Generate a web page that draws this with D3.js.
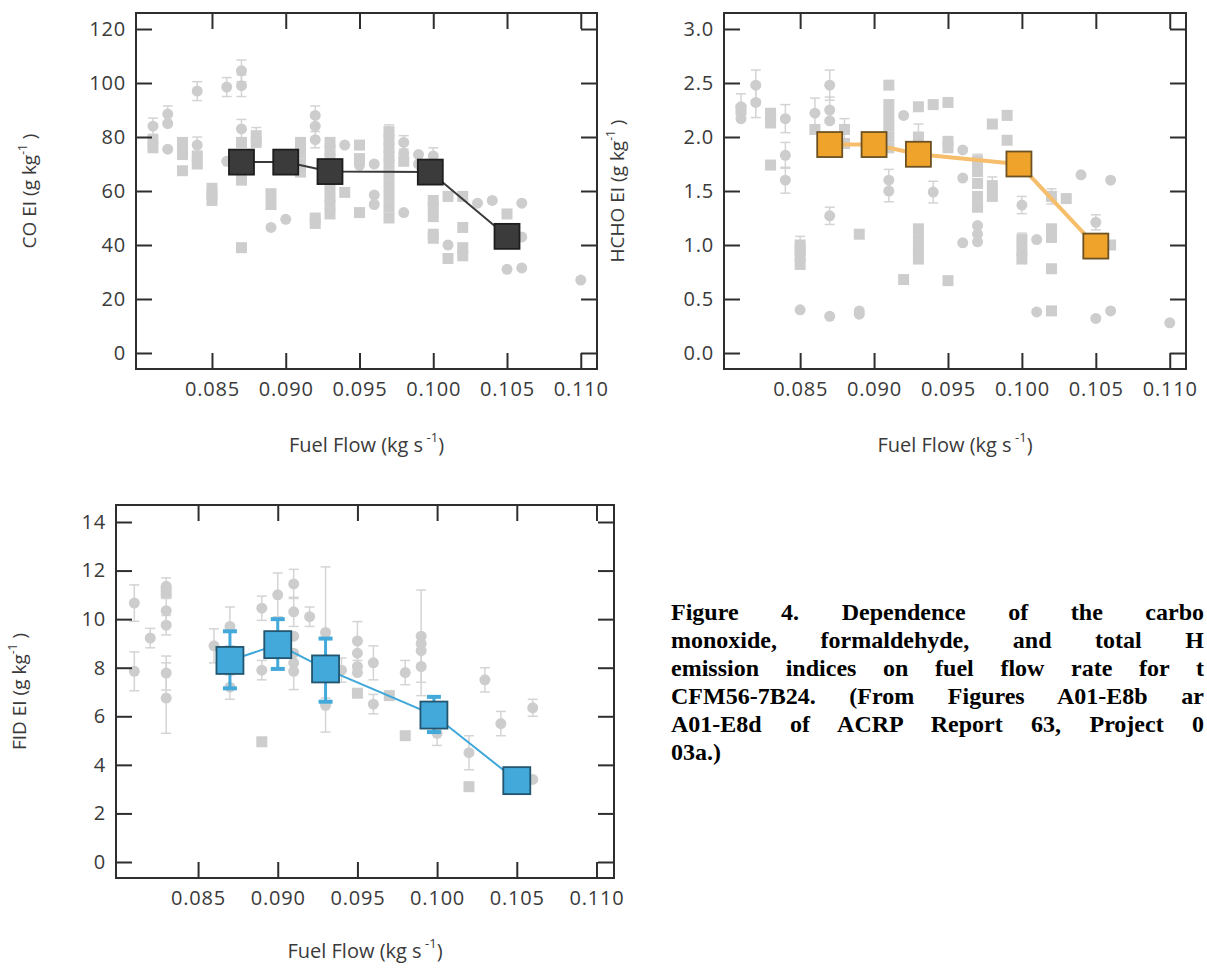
<!DOCTYPE html>
<html>
<head>
<meta charset="utf-8">
<script src="https://cdn.jsdelivr.net/npm/d3@7"></script>
<style>
  body { margin: 0; width: 1207px; height: 970px; overflow: hidden; background: #fff; position: relative; }
  svg { position: absolute; left: 0; top: 0; }
  #caption {
    position: absolute; left: 671px; top: 598px; width: 533px;
    font-family: "Liberation Serif", "Times New Roman", serif;
    font-weight: bold; font-size: 24px; line-height: 28px; color: #000;
  }
  #caption div { text-align: justify; text-align-last: justify; white-space: normal; }
  #caption div.last { text-align-last: left; }
</style>
</head>
<body>
<div id="caption"></div>
<script>
// x ticks shared by all three panels
var xTicks = [0.085, 0.090, 0.095, 0.100, 0.105, 0.110];

// the five test points (big squares)
var fuelFlow = [0.087, 0.090, 0.093, 0.0998, 0.105];
var coEI = [70.7, 70.7, 67.2, 67.0, 43.2];
var hchoEI = [1.93, 1.93, 1.84, 1.75, 0.99];
var fidEI = [8.3, 8.95, 7.95, 6.05, 3.35];
var fidErrLow = [7.15, 7.95, 6.6, 5.35, null];
var fidErrHigh = [9.5, 10.0, 9.2, 6.8, null];

// grey background measurements: [fuel flow, EI, shape (c/s), error half-length]
var coGrey = [
  [0.081, 84, "c", 3], [0.081, 79, "s", 0], [0.081, 76, "s", 0],
  [0.082, 88.5, "c", 3], [0.082, 85, "c", 0], [0.082, 75.5, "c", 0],
  [0.083, 78, "s", 0], [0.083, 76, "s", 0], [0.083, 73.5, "s", 0], [0.083, 67.5, "s", 0],
  [0.084, 97, "c", 3.5], [0.084, 77, "c", 3], [0.084, 73, "s", 0], [0.084, 70, "s", 0],
  [0.085, 61, "s", 0], [0.085, 58.5, "s", 0], [0.085, 56.5, "s", 0],
  [0.086, 98.5, "c", 3.5], [0.086, 71, "c", 0],
  [0.087, 104.5, "c", 4], [0.087, 99, "c", 4], [0.087, 83, "c", 3.5], [0.087, 78, "s", 0],
  [0.087, 66, "s", 0], [0.087, 64, "s", 0], [0.087, 39, "s", 0],
  [0.088, 80.5, "s", 3], [0.088, 78, "s", 0],
  [0.089, 59, "s", 0], [0.089, 55, "s", 0], [0.089, 46.5, "c", 0],
  [0.090, 49.5, "c", 0],
  [0.091, 78, "s", 0], [0.091, 74, "s", 0], [0.091, 70, "s", 0], [0.091, 67, "s", 0],
  [0.092, 88, "c", 3.5], [0.092, 84, "c", 0], [0.092, 79, "c", 3], [0.092, 50, "s", 0], [0.092, 48, "s", 0],
  [0.093, 78, "s", 0], [0.093, 75, "s", 0], [0.093, 72, "s", 0], [0.093, 62, "s", 0],
  [0.093, 58, "s", 0], [0.093, 55, "s", 0], [0.093, 51.5, "s", 0],
  [0.094, 77, "c", 0], [0.094, 59.5, "s", 0],
  [0.095, 77, "s", 0], [0.095, 72, "s", 0], [0.095, 69.5, "c", 0], [0.095, 52, "s", 0],
  [0.096, 70, "c", 0], [0.096, 58.5, "c", 0], [0.096, 55, "c", 0],
  [0.097, 82, "s", 2.5], [0.097, 79, "s", 0], [0.097, 76, "s", 0], [0.097, 73, "s", 0], [0.097, 70, "s", 0],
  [0.097, 66, "s", 0], [0.097, 62, "s", 0], [0.097, 58, "s", 0], [0.097, 54, "s", 0], [0.097, 50, "s", 0],
  [0.098, 78, "c", 2.5], [0.098, 74, "c", 0], [0.098, 71, "s", 0], [0.098, 52, "c", 0],
  [0.099, 73.5, "c", 0], [0.099, 70, "c", 0],
  [0.100, 73, "c", 3], [0.100, 56.5, "s", 0], [0.100, 54, "s", 0], [0.100, 50.5, "s", 0],
  [0.100, 44, "s", 0], [0.100, 42.5, "s", 0],
  [0.101, 58, "s", 0], [0.101, 40, "c", 0], [0.101, 35, "s", 0],
  [0.102, 58, "s", 0], [0.102, 46.5, "s", 0], [0.102, 39, "s", 0], [0.102, 36, "s", 0],
  [0.103, 55.5, "c", 0], [0.104, 56.5, "c", 0],
  [0.105, 51.5, "s", 0], [0.105, 31, "c", 0],
  [0.106, 55.5, "c", 0], [0.106, 43, "c", 0], [0.106, 31.5, "c", 0],
  [0.110, 27, "c", 0]
];

var hchoGrey = [
  [0.081, 2.28, "c", 0.12], [0.081, 2.17, "c", 0], [0.081, 2.25, "s", 0],
  [0.082, 2.48, "c", 0.14], [0.082, 2.32, "c", 0.14],
  [0.083, 2.22, "s", 0], [0.083, 2.18, "s", 0], [0.083, 2.13, "s", 0], [0.083, 1.74, "s", 0],
  [0.084, 2.17, "c", 0.13], [0.084, 1.83, "c", 0.12], [0.084, 1.60, "c", 0.12],
  [0.085, 1.0, "s", 0.08], [0.085, 0.95, "s", 0], [0.085, 0.9, "s", 0], [0.085, 0.82, "s", 0], [0.085, 0.40, "c", 0],
  [0.086, 2.22, "c", 0.14], [0.086, 2.07, "s", 0],
  [0.087, 2.48, "c", 0.14], [0.087, 2.25, "c", 0.12], [0.087, 2.15, "c", 0], [0.087, 1.27, "c", 0.08], [0.087, 0.34, "c", 0],
  [0.088, 2.07, "s", 0.1], [0.088, 1.94, "s", 0],
  [0.089, 1.10, "s", 0], [0.089, 0.39, "c", 0], [0.089, 0.36, "c", 0],
  [0.090, 1.99, "c", 0],
  [0.091, 2.48, "s", 0], [0.091, 2.3, "s", 0], [0.091, 2.2, "s", 0], [0.091, 2.1, "s", 0],
  [0.091, 2.0, "s", 0], [0.091, 1.9, "s", 0], [0.091, 1.60, "c", 0.1], [0.091, 1.5, "c", 0.1],
  [0.092, 2.2, "c", 0], [0.092, 0.68, "s", 0],
  [0.093, 2.28, "s", 0], [0.093, 2.0, "s", 0.12], [0.093, 1.92, "s", 0], [0.093, 1.8, "s", 0],
  [0.093, 1.15, "s", 0], [0.093, 1.05, "s", 0], [0.093, 0.95, "s", 0], [0.093, 0.87, "s", 0],
  [0.094, 2.3, "s", 0], [0.094, 1.49, "c", 0.1],
  [0.095, 2.32, "s", 0], [0.095, 1.96, "s", 0], [0.095, 1.9, "s", 0], [0.095, 0.67, "s", 0],
  [0.096, 1.88, "c", 0], [0.096, 1.62, "c", 0], [0.096, 1.02, "c", 0],
  [0.097, 1.78, "s", 0.06], [0.097, 1.68, "s", 0], [0.097, 1.57, "s", 0], [0.097, 1.45, "s", 0],
  [0.097, 1.35, "s", 0], [0.097, 1.18, "c", 0], [0.097, 1.1, "c", 0], [0.097, 1.03, "c", 0],
  [0.098, 2.12, "s", 0], [0.098, 1.55, "s", 0.08], [0.098, 1.45, "s", 0],
  [0.099, 2.2, "s", 0], [0.099, 1.97, "s", 0],
  [0.100, 1.37, "c", 0.08], [0.100, 1.05, "s", 0.06], [0.100, 0.95, "s", 0], [0.100, 0.87, "s", 0],
  [0.101, 1.05, "c", 0], [0.101, 0.38, "c", 0],
  [0.102, 1.45, "s", 0.07], [0.102, 1.15, "s", 0], [0.102, 1.07, "s", 0], [0.102, 0.78, "s", 0], [0.102, 0.39, "s", 0],
  [0.103, 1.43, "s", 0], [0.104, 1.65, "c", 0],
  [0.105, 1.21, "c", 0.07], [0.105, 0.32, "c", 0],
  [0.106, 1.6, "c", 0], [0.106, 1.0, "s", 0], [0.106, 0.39, "c", 0],
  [0.110, 0.28, "c", 0]
];

var fidGrey = [
  [0.081, 10.66, "c", 0.75], [0.081, 7.85, "c", 0.8],
  [0.082, 9.22, "c", 0.4],
  [0.083, 11.35, "c", 0.35], [0.083, 11.1, "s", 0], [0.083, 10.35, "c", 0.5], [0.083, 9.75, "c", 0.4],
  [0.083, 7.78, "c", 0.7], [0.083, 6.75, "c", 1.45],
  [0.086, 8.9, "c", 0.7],
  [0.087, 9.7, "c", 0.8], [0.087, 7.2, "c", 0.5],
  [0.089, 10.45, "c", 0.5], [0.089, 7.9, "c", 0.4], [0.089, 4.95, "s", 0],
  [0.090, 11.0, "c", 0.9],
  [0.091, 11.45, "c", 0.6], [0.091, 10.3, "c", 0.6], [0.091, 9.3, "c", 0], [0.091, 8.6, "c", 0],
  [0.091, 8.2, "c", 0], [0.091, 7.85, "c", 0.75],
  [0.092, 10.1, "c", 0.4],
  [0.093, 9.45, "c", 2.7], [0.093, 6.45, "c", 1.1],
  [0.094, 7.9, "c", 0.5],
  [0.095, 9.1, "c", 0.8], [0.095, 8.6, "c", 0], [0.095, 8.05, "c", 0], [0.095, 7.8, "c", 0], [0.095, 6.95, "s", 0],
  [0.096, 8.2, "c", 0.7], [0.096, 6.5, "c", 0.4],
  [0.097, 6.85, "s", 0],
  [0.098, 7.8, "c", 0.5], [0.098, 5.2, "s", 0],
  [0.099, 9.3, "c", 1.9], [0.099, 9.0, "c", 0], [0.099, 8.7, "c", 0], [0.099, 8.05, "c", 1.2],
  [0.100, 5.3, "c", 0.5],
  [0.102, 4.5, "c", 0.7], [0.102, 3.1, "s", 0],
  [0.103, 7.5, "c", 0.5], [0.104, 5.7, "c", 0.5],
  [0.106, 6.35, "c", 0.35], [0.106, 3.4, "c", 0]
];

// caption as it shows in the picture (cut by the right edge of the page)
var captionLines = [
  "Figure 4. Dependence of the carbo",
  "monoxide, formaldehyde, and total H",
  "emission indices on fuel flow rate for t",
  "CFM56-7B24. (From Figures A01-E8b ar",
  "A01-E8d of ACRP Report 63, Project 0",
  "03a.)"
];

var svg = d3.select("body").append("svg")
  .attr("width", 1207)
  .attr("height", 970);

var defs = svg.append("defs");
defs.append("filter").attr("id", "soft")
  .append("feGaussianBlur").attr("stdDeviation", 0.7);

var textCol = "#3a3a3a";
var greyCol = "#cdcdcd";
var font = "'Open Sans', sans-serif";

function drawPanel(p) {
  var w = p.width, h = p.height;
  var g = svg.append("g").attr("transform", "translate(" + p.left + "," + p.top + ")");

  var x = d3.scaleLinear().domain([0.07985, 0.1111]).range([0, w]);
  var y = d3.scaleLinear().domain(p.yDomain).range([h, 0]);

  // grey background data
  var bg = g.append("g").attr("filter", "url(#soft)");
  bg.selectAll("g.eb").data(p.grey.filter(function(d) { return d[3] > 0; }))
    .enter().append("g").attr("class", "eb")
    .each(function(d) {
      var e = d3.select(this), cx = x(d[0]);
      e.append("line").attr("x1", cx).attr("x2", cx)
        .attr("y1", y(d[1] - d[3])).attr("y2", y(d[1] + d[3]));
      e.append("line").attr("x1", cx - 5).attr("x2", cx + 5)
        .attr("y1", y(d[1] - d[3])).attr("y2", y(d[1] - d[3]));
      e.append("line").attr("x1", cx - 5).attr("x2", cx + 5)
        .attr("y1", y(d[1] + d[3])).attr("y2", y(d[1] + d[3]));
    })
    .attr("stroke", "#d4d4d4").attr("stroke-width", 1.5);
  bg.selectAll("circle").data(p.grey.filter(function(d) { return d[2] == "c"; }))
    .enter().append("circle")
    .attr("cx", function(d) { return x(d[0]); })
    .attr("cy", function(d) { return y(d[1]); })
    .attr("r", 5.5)
    .attr("fill", greyCol);
  bg.selectAll("rect").data(p.grey.filter(function(d) { return d[2] == "s"; }))
    .enter().append("rect")
    .attr("x", function(d) { return x(d[0]) - 5.5; })
    .attr("y", function(d) { return y(d[1]) - 5.5; })
    .attr("width", 11).attr("height", 11)
    .attr("fill", greyCol);

  // main series
  var pts = fuelFlow.map(function(f, i) { return [f, p.values[i], i]; });
  g.append("path").datum(pts)
    .attr("fill", "none")
    .attr("stroke", p.lineCol)
    .attr("stroke-width", p.lineWidth)
    .attr("d", d3.line().x(function(d) { return x(d[0]); }).y(function(d) { return y(d[1]); }));

  if (p.errLow) {
    var ebs = g.append("g").attr("stroke", p.fill).attr("stroke-width", 3);
    pts.forEach(function(d) {
      var lo = p.errLow[d[2]], hi = p.errHigh[d[2]];
      if (lo == null) return;
      var cx = x(d[0]);
      ebs.append("line").attr("x1", cx).attr("x2", cx).attr("y1", y(lo)).attr("y2", y(hi));
      ebs.append("line").attr("x1", cx - 7).attr("x2", cx + 7).attr("y1", y(lo)).attr("y2", y(lo)).attr("stroke-width", 4);
      ebs.append("line").attr("x1", cx - 7).attr("x2", cx + 7).attr("y1", y(hi)).attr("y2", y(hi)).attr("stroke-width", 4);
    });
  }

  var s = p.markerSize;
  g.selectAll("rect.main").data(pts).enter().append("rect")
    .attr("class", "main")
    .attr("x", function(d) { return x(d[0]) - s / 2; })
    .attr("y", function(d) { return y(d[1]) - s / 2; })
    .attr("width", s).attr("height", s)
    .attr("fill", p.fill)
    .attr("stroke", p.edge)
    .attr("stroke-width", 1.8);

  // axes, ticks pointing inward on all four sides
  var left = g.append("g")
    .call(d3.axisLeft(y).tickValues(p.yTicks).tickSize(-16).tickPadding(10).tickFormat(p.yFormat));
  var right = g.append("g").attr("transform", "translate(" + w + ",0)")
    .call(d3.axisRight(y).tickValues(p.yTicks).tickSize(-16).tickFormat(""));
  var top = g.append("g")
    .call(d3.axisTop(x).tickValues(xTicks).tickSize(-16).tickFormat(""));
  var bottom = g.append("g").attr("transform", "translate(0," + h + ")")
    .call(d3.axisBottom(x).tickValues(xTicks).tickSize(-16).tickPadding(13).tickFormat(d3.format(".3f")));

  [left, right, top, bottom].forEach(function(a) {
    a.select(".domain").remove();
    a.selectAll(".tick line").attr("stroke", "#2e2e2e").attr("stroke-width", 2);
    a.selectAll(".tick text")
      .attr("fill", textCol)
      .style("font-family", font)
      .style("font-size", "20px")
      .style("letter-spacing", "0.8px");
  });

  g.append("rect")
    .attr("width", w).attr("height", h)
    .attr("fill", "none")
    .attr("stroke", "#2e2e2e")
    .attr("stroke-width", 2);

  // axis titles
  var yt = g.append("text")
    .attr("transform", "translate(" + p.yTitleX + "," + (h / 2) + ") rotate(-90)")
    .attr("text-anchor", "middle")
    .attr("fill", textCol)
    .style("font-family", font)
    .style("font-size", "19px");
  yt.append("tspan").text(p.yLabel + " (g kg");
  yt.append("tspan").attr("dy", -9).style("font-size", "12px").text("-1");
  yt.append("tspan").attr("dy", 9).text(" )");

  var xt = g.append("text")
    .attr("x", w / 2).attr("y", h + p.xTitleY)
    .attr("text-anchor", "middle")
    .attr("fill", textCol)
    .style("font-family", font)
    .style("font-size", "20px");
  xt.append("tspan").text("Fuel Flow (kg s");
  xt.append("tspan").attr("dy", -10).style("font-size", "13px").text(" -1");
  xt.append("tspan").attr("dy", 10).text(")");
}

drawPanel({
  left: 136, top: 13, width: 461, height: 356,
  yDomain: [-5.93, 125.93], yTicks: [0, 20, 40, 60, 80, 100, 120], yFormat: d3.format("d"),
  yLabel: "CO EI", yTitleX: -100, xTitleY: 83,
  grey: coGrey, values: coEI,
  fill: "#3b3b3b", edge: "#1e1e1e", lineCol: "#3a3a3a", lineWidth: 2, markerSize: 25
});

drawPanel({
  left: 724, top: 13, width: 462, height: 356,
  yDomain: [-0.148, 3.148], yTicks: [0, 0.5, 1, 1.5, 2, 2.5, 3], yFormat: d3.format(".1f"),
  yLabel: "HCHO EI", yTitleX: -100, xTitleY: 83,
  grey: hchoGrey, values: hchoEI,
  fill: "#f0a32a", edge: "#6b5124", lineCol: "#f6bd6a", lineWidth: 4, markerSize: 25
});

drawPanel({
  left: 116, top: 505, width: 498, height: 373,
  yDomain: [-0.659, 14.7], yTicks: [0, 2, 4, 6, 8, 10, 12, 14], yFormat: d3.format("d"),
  yLabel: "FID EI", yTitleX: -90, xTitleY: 80,
  grey: fidGrey, values: fidEI, errLow: fidErrLow, errHigh: fidErrHigh,
  fill: "#42a9da", edge: "#22556f", lineCol: "#3ea7da", lineWidth: 2, markerSize: 27
});

d3.select("#caption").selectAll("div").data(captionLines).enter().append("div")
  .attr("class", function(d, i) { return i == captionLines.length - 1 ? "last" : null; })
  .text(function(d) { return d; });
</script>
</body>
</html>
